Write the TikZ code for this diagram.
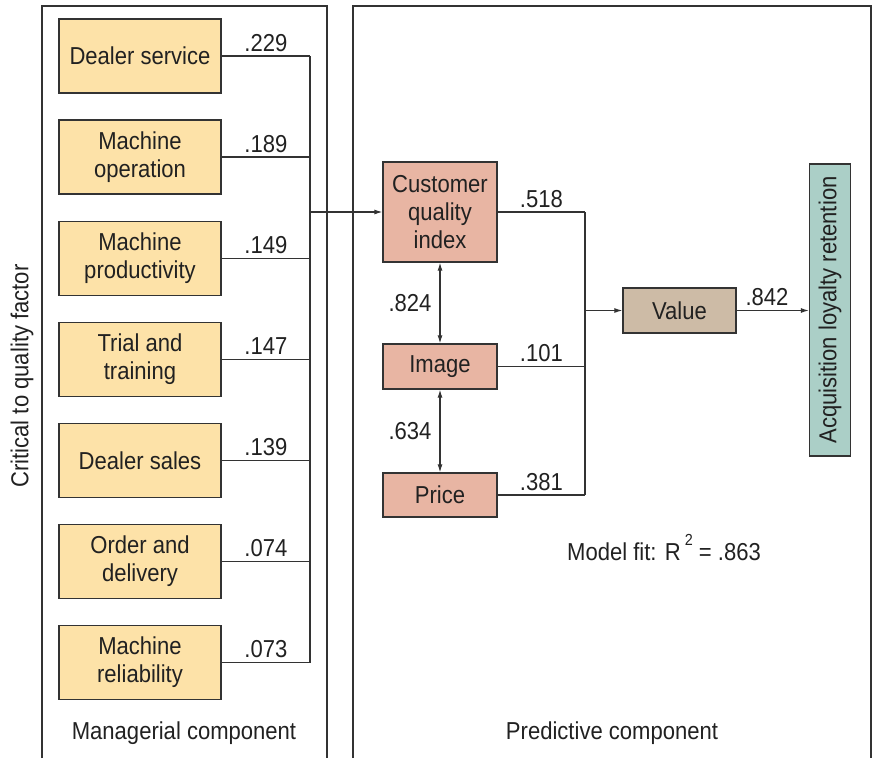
\documentclass[tikz,border=0pt]{standalone}
\usepackage{fontspec}
\setmainfont[FakeStretch=0.9]{Liberation Sans}
\usetikzlibrary{arrows.meta}
\definecolor{yel}{HTML}{FDE2A8}
\definecolor{sal}{HTML}{E8B5A3}
\definecolor{tanbox}{HTML}{CDBBA6}
\definecolor{tealbox}{HTML}{ABCFC7}
\definecolor{ln}{HTML}{333333}
\newcommand\diagfont{\fontsize{24.5}{28}\selectfont}
\newcommand\supfont{\fontsize{16}{16}\selectfont}
\begin{document}
\begin{tikzpicture}[x=1pt,y=-1pt,
  box/.style={draw=ln, line width=1.3pt, inner sep=0pt, align=center, font=\diagfont, text=black!87},
  lbox/.style={box, fill=yel, minimum width=162pt, minimum height=74pt},
  rbox/.style={box, fill=sal, minimum width=114pt},
  conn/.style={draw=ln, line width=1.1pt},
  tip/.tip={Latex[length=8pt,width=5pt]},
  arr/.style={conn, -tip},
  lbl/.style={above, inner sep=4pt, font=\diagfont, text=black!87},
  txt/.style={font=\diagfont, text=black!87}]
\useasboundingbox (0,0) rectangle (877,758);
% panels
\draw[conn] (42,758) -- (42,6) -- (327,6) -- (327,758);
\draw[conn] (353,758) -- (353,6) -- (871,6) -- (871,758);
% left boxes
\node[lbox] (d1) at (140,56) {Dealer service};
\node[lbox] (d2) at (140,157) {Machine\\operation};
\node[lbox] (d3) at (140,258.5) {Machine\\productivity};
\node[lbox] (d4) at (140,359.5) {Trial and\\training};
\node[lbox] (d5) at (140,460.5) {Dealer sales};
\node[lbox] (d6) at (140,561.5) {Order and\\delivery};
\node[lbox] (d7) at (140,662.5) {Machine\\reliability};
\coordinate (busL) at (310,0);
\coordinate (busR) at (585,0);
% right boxes
\node[rbox, minimum height=100pt] (cqi) at (440,212) {Customer\\quality\\index};
\node[rbox, minimum height=45pt] (img) at (440,366.5) {Image};
\node[rbox, minimum height=44pt] (prc) at (440,495) {Price};
\node[box, fill=tanbox, minimum width=113pt, minimum height=45pt] (val) at (679.5,310.5) {Value};
\node[box, fill=tealbox, rotate=90, minimum width=292pt, minimum height=41pt] (alr) at (830,310) {Acquisition loyalty retention};
% left connectors
\draw[conn] (d1.east) -- node[lbl]{.229} (d1.east -| busL);
\draw[conn] (d2.east) -- node[lbl]{.189} (d2.east -| busL);
\draw[conn] (d3.east) -- node[lbl]{.149} (d3.east -| busL);
\draw[conn] (d4.east) -- node[lbl]{.147} (d4.east -| busL);
\draw[conn] (d5.east) -- node[lbl]{.139} (d5.east -| busL);
\draw[conn] (d6.east) -- node[lbl]{.074} (d6.east -| busL);
\draw[conn] (d7.east) -- node[lbl]{.073} (d7.east -| busL);
\draw[conn] (d1.east -| busL) -- (d7.east -| busL);
\draw[arr] (cqi.west -| busL) -- (cqi.west);
% right connectors
\draw[conn] (cqi.east) -- node[lbl]{.518} (cqi.east -| busR);
\draw[conn] (img.east) -- node[lbl]{.101} (img.east -| busR);
\draw[conn] (prc.east) -- node[lbl]{.381} (prc.east -| busR);
\draw[conn] (cqi.east -| busR) -- (prc.east -| busR);
\draw[arr] (val.west -| busR) -- (val.west);
\draw[arr] (val.east) -- node[lbl, pos=0.42]{.842} (val.east -| alr.north);
% correlations
\draw[conn, tip-tip] (cqi.south) -- node[left, inner sep=8pt, txt]{.824} (img.north);
\draw[conn, tip-tip] (img.south) -- node[left, inner sep=8pt, txt]{.634} (prc.north);
% texts
\node[txt] (fit) at (664,548) {Model fit: R\,\raisebox{15pt}{\supfont 2} = .863};
\node[txt, rotate=90] (ctq) at (22,376) {Critical to quality factor};
\node[txt] (mc) at (184,733) {Managerial component};
\node[txt] (pc) at (612,733) {Predictive component};
\end{tikzpicture}
\end{document}
